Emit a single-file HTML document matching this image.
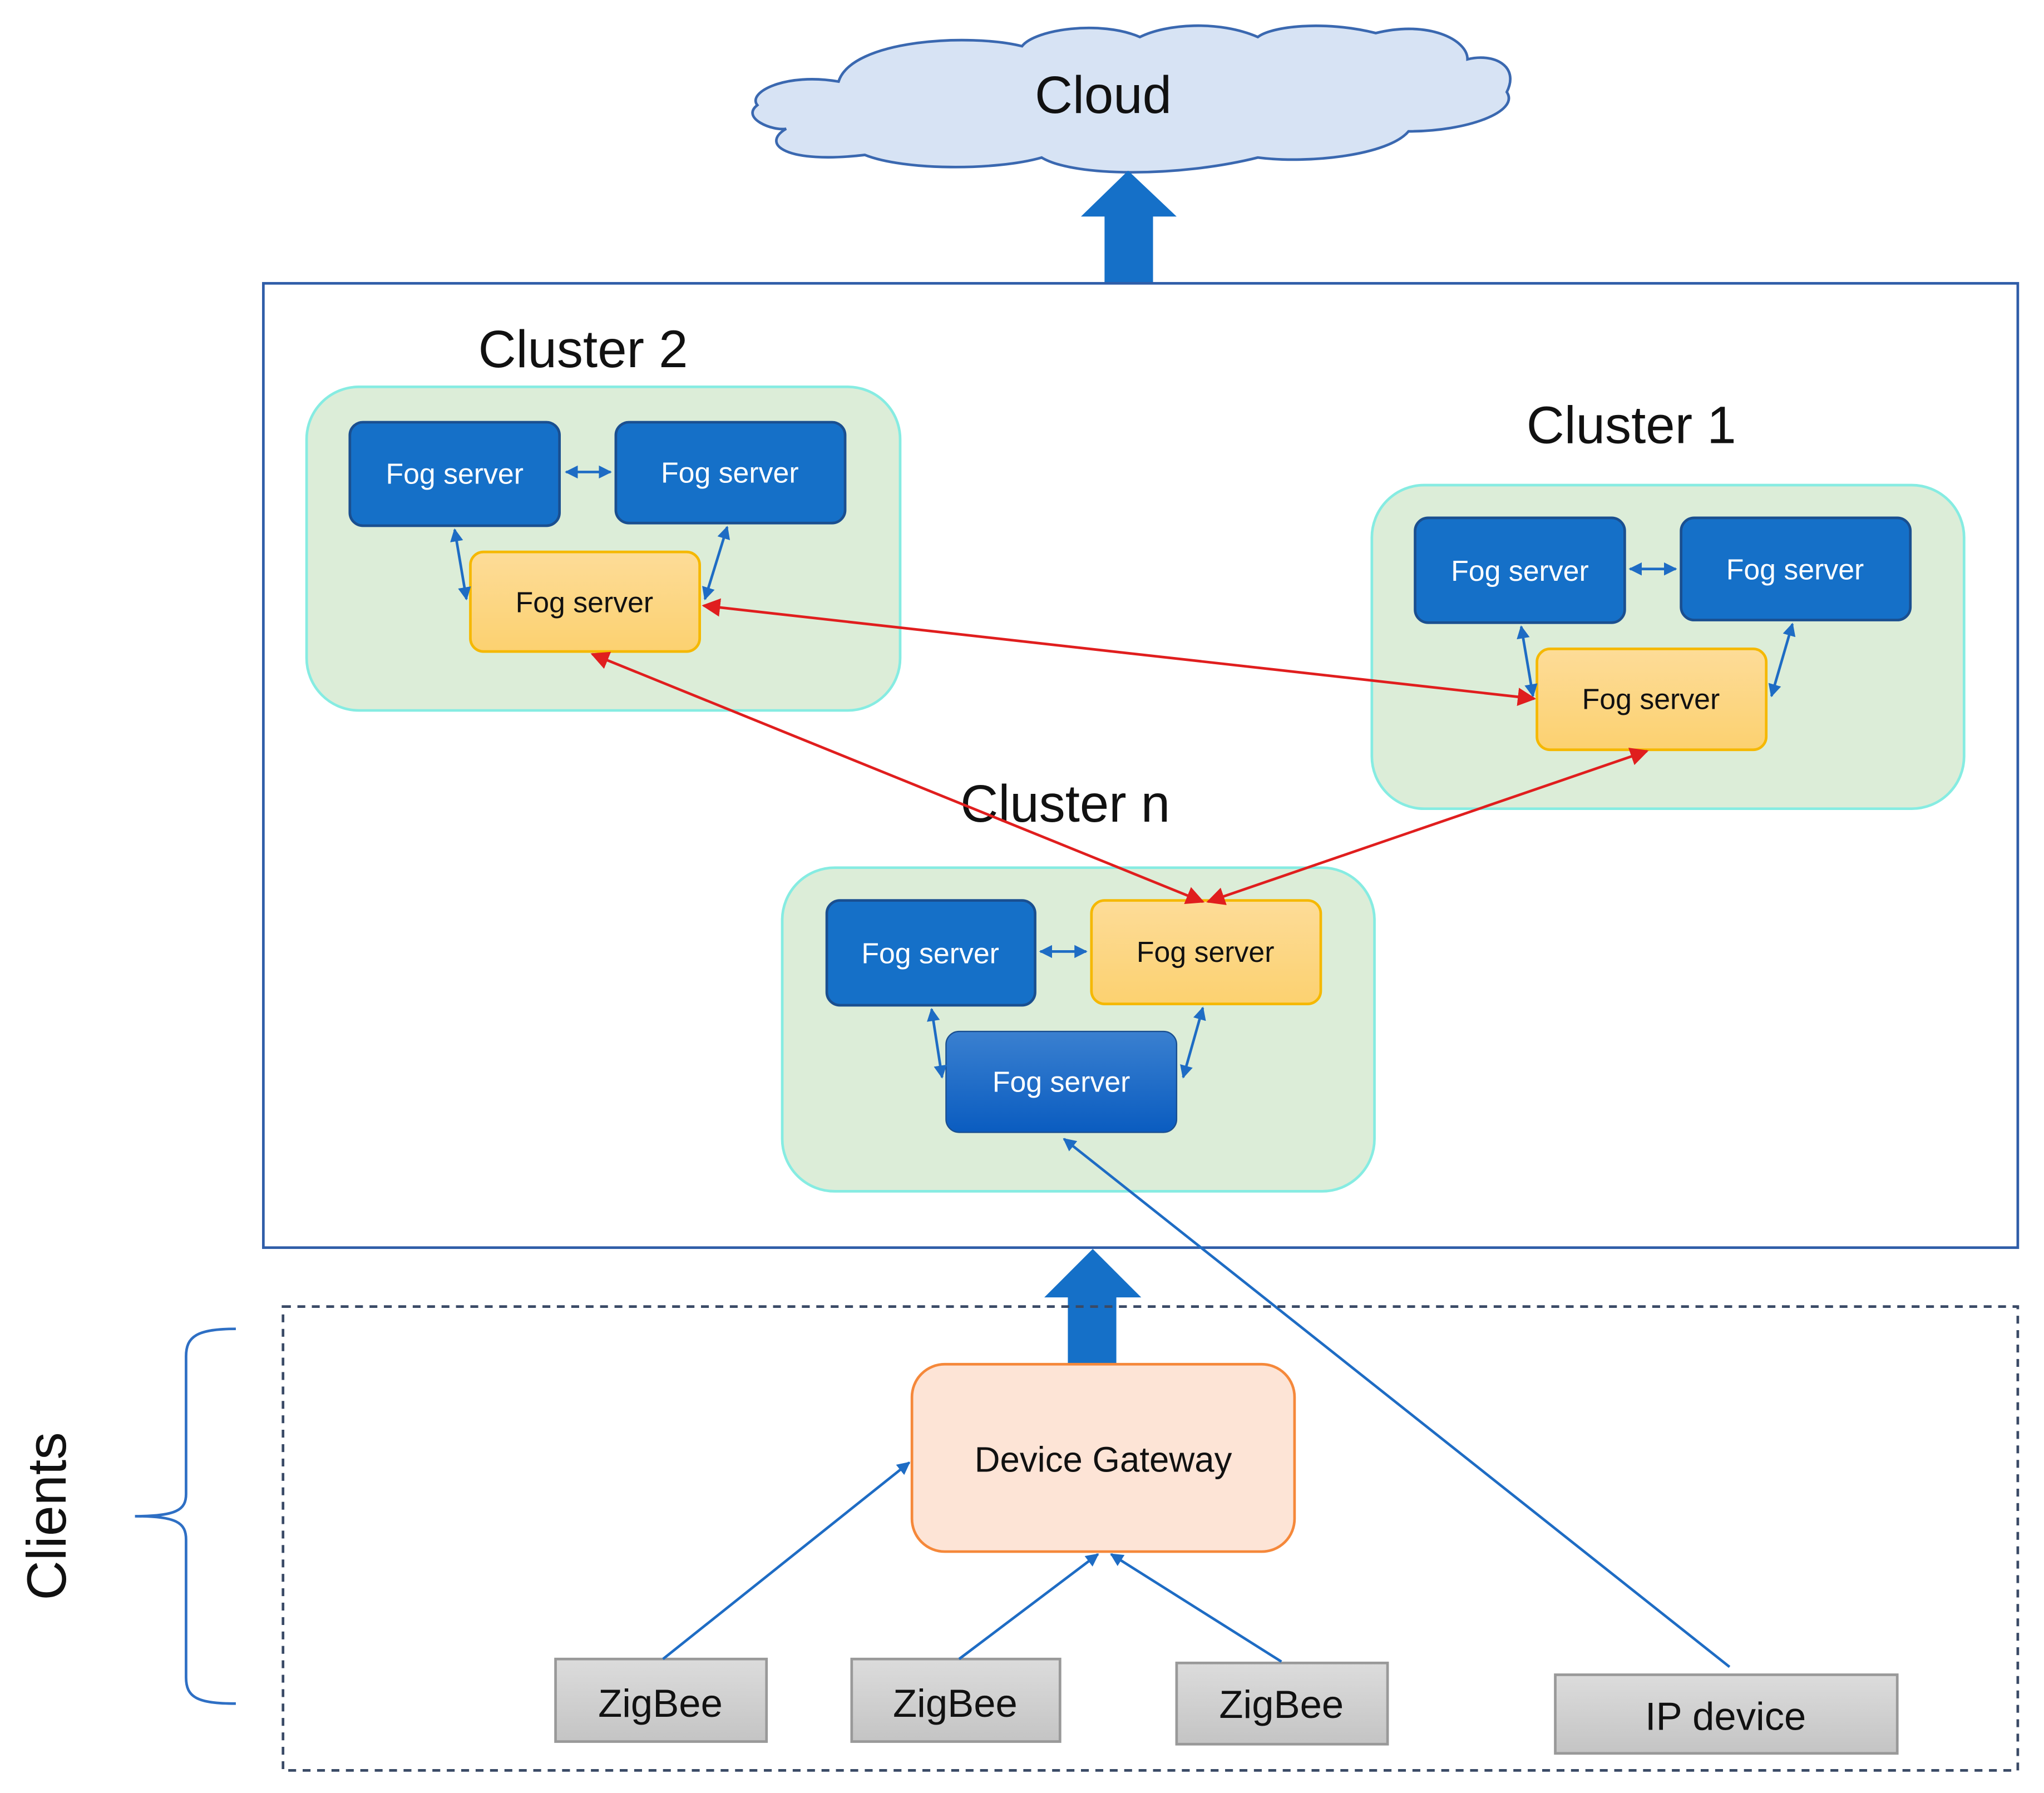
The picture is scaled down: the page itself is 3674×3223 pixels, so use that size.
<!DOCTYPE html>
<html><head><meta charset="utf-8"><style>html,body{margin:0;padding:0;background:#fff}svg{display:block}</style></head>
<body>
<svg width="3674" height="3223" viewBox="0 0 1560 1368" xmlns="http://www.w3.org/2000/svg" font-family="Liberation Sans, sans-serif">
<defs>
<marker id="bh" viewBox="0 0 10 10" refX="9" refY="5" markerWidth="5" markerHeight="5" orient="auto-start-reverse"><path d="M0,0 L10,5 L0,10 z" fill="#1e6cc4"/></marker>
<marker id="rh" viewBox="0 0 10 10" refX="9" refY="5" markerWidth="7" markerHeight="7" orient="auto-start-reverse"><path d="M0,0 L10,5 L0,10 z" fill="#e01e1e"/></marker>
<linearGradient id="yg" x1="0" y1="0" x2="0" y2="1"><stop offset="0" stop-color="#fddc98"/><stop offset="1" stop-color="#fcd170"/></linearGradient>
<linearGradient id="gg" x1="0" y1="0" x2="0" y2="1"><stop offset="0" stop-color="#dcdcdc"/><stop offset="1" stop-color="#c4c4c4"/></linearGradient>
<linearGradient id="bg2" x1="0" y1="0" x2="0" y2="1"><stop offset="0" stop-color="#3a80d0"/><stop offset="1" stop-color="#0a5cc0"/></linearGradient>
</defs>
<!-- Cloud -->
<path d="M640,62 C600,55 570,70 578,80 C565,90 590,100 600,98 C580,110 600,125 660,118 C690,130 760,130 795,120 C820,135 900,135 960,120 C1000,125 1060,118 1075,100 C1120,100 1160,85 1150,70 C1160,50 1140,40 1120,45 C1120,30 1090,15 1050,25 C1010,15 970,20 960,28 C930,15 890,18 870,28 C840,15 790,22 780,35 C740,25 650,30 640,62 Z" fill="#d7e3f4" stroke="#3a68b0" stroke-width="2"/>
<text x="842" y="86" font-size="40" text-anchor="middle" fill="#111">Cloud</text>
<!-- top arrow -->
<path d="M843,216 L843,165 L825,165 L861,130 L898,165 L880,165 L880,216 Z" fill="#1570c8"/>
<!-- main box -->
<rect x="201" y="216" width="1339" height="736" fill="none" stroke="#2f5da8" stroke-width="2"/>
<!-- Cluster 2 -->
<text x="365" y="280" font-size="40" fill="#111">Cluster 2</text>
<rect x="234" y="295" width="453" height="247" rx="40" fill="#dcedd8" stroke="#86ece2" stroke-width="2"/>
<rect x="267" y="322" width="160" height="79" rx="10" fill="#1570c8" stroke="#1a4f90" stroke-width="2"/>
<text x="347" y="369" font-size="22" fill="#fff" text-anchor="middle">Fog server</text>
<rect x="470" y="322" width="175" height="77" rx="10" fill="#1570c8" stroke="#1a4f90" stroke-width="2"/>
<text x="557" y="368" font-size="22" fill="#fff" text-anchor="middle">Fog server</text>
<rect x="359" y="421" width="175" height="76" rx="10" fill="url(#yg)" stroke="#f5b800" stroke-width="2"/>
<text x="446" y="467" font-size="22" fill="#111" text-anchor="middle">Fog server</text>
<line x1="432" y1="360" x2="466" y2="360" stroke="#1e6cc4" stroke-width="2" marker-start="url(#bh)" marker-end="url(#bh)"/>
<line x1="347" y1="404" x2="356" y2="457" stroke="#1e6cc4" stroke-width="2" marker-start="url(#bh)" marker-end="url(#bh)"/>
<line x1="555" y1="402" x2="538" y2="457" stroke="#1e6cc4" stroke-width="2" marker-start="url(#bh)" marker-end="url(#bh)"/>
<!-- Cluster 1 -->
<text x="1165" y="338" font-size="40" fill="#111">Cluster 1</text>
<rect x="1047" y="370" width="452" height="247" rx="40" fill="#dcedd8" stroke="#86ece2" stroke-width="2"/>
<rect x="1080" y="395" width="160" height="80" rx="10" fill="#1570c8" stroke="#1a4f90" stroke-width="2"/>
<text x="1160" y="443" font-size="22" fill="#fff" text-anchor="middle">Fog server</text>
<rect x="1283" y="395" width="175" height="78" rx="10" fill="#1570c8" stroke="#1a4f90" stroke-width="2"/>
<text x="1370" y="442" font-size="22" fill="#fff" text-anchor="middle">Fog server</text>
<rect x="1173" y="495" width="175" height="77" rx="10" fill="url(#yg)" stroke="#f5b800" stroke-width="2"/>
<text x="1260" y="541" font-size="22" fill="#111" text-anchor="middle">Fog server</text>
<line x1="1244" y1="434" x2="1279" y2="434" stroke="#1e6cc4" stroke-width="2" marker-start="url(#bh)" marker-end="url(#bh)"/>
<line x1="1161" y1="478" x2="1170" y2="531" stroke="#1e6cc4" stroke-width="2" marker-start="url(#bh)" marker-end="url(#bh)"/>
<line x1="1368" y1="476" x2="1352" y2="531" stroke="#1e6cc4" stroke-width="2" marker-start="url(#bh)" marker-end="url(#bh)"/>
<!-- Cluster n -->
<rect x="597" y="662" width="452" height="247" rx="40" fill="#dcedd8" stroke="#86ece2" stroke-width="2"/>
<text x="733" y="627" font-size="40" fill="#111">Cluster n</text>
<rect x="631" y="687" width="159" height="80" rx="10" fill="#1570c8" stroke="#1a4f90" stroke-width="2"/>
<text x="710" y="735" font-size="22" fill="#fff" text-anchor="middle">Fog server</text>
<rect x="833" y="687" width="175" height="79" rx="10" fill="url(#yg)" stroke="#f5b800" stroke-width="2"/>
<text x="920" y="734" font-size="22" fill="#111" text-anchor="middle">Fog server</text>
<rect x="722" y="787" width="176" height="77" rx="10" fill="url(#bg2)" stroke="#1a4f90" stroke-width="1"/>
<text x="810" y="833" font-size="22" fill="#fff" text-anchor="middle">Fog server</text>
<line x1="794" y1="726" x2="829" y2="726" stroke="#1e6cc4" stroke-width="2" marker-start="url(#bh)" marker-end="url(#bh)"/>
<line x1="711" y1="770" x2="719" y2="822" stroke="#1e6cc4" stroke-width="2" marker-start="url(#bh)" marker-end="url(#bh)"/>
<line x1="918" y1="769" x2="903" y2="822" stroke="#1e6cc4" stroke-width="2" marker-start="url(#bh)" marker-end="url(#bh)"/>
<!-- red links -->
<line x1="537" y1="462" x2="1171" y2="533" stroke="#e01e1e" stroke-width="2" marker-start="url(#rh)" marker-end="url(#rh)"/>
<line x1="452" y1="499" x2="918" y2="688" stroke="#e01e1e" stroke-width="2" marker-start="url(#rh)" marker-end="url(#rh)"/>
<line x1="1257" y1="573" x2="922" y2="688" stroke="#e01e1e" stroke-width="2" marker-start="url(#rh)" marker-end="url(#rh)"/>
<!-- IP device line -->
<line x1="1320" y1="1272" x2="812" y2="869" stroke="#1e6cc4" stroke-width="2" marker-end="url(#bh)"/>
<!-- lower arrow -->
<path d="M815,1041 L815,990 L797,990 L834,953 L871,990 L852,990 L852,1041 Z" fill="#1570c8"/>
<!-- dashed box -->
<rect x="216" y="997" width="1324" height="354" fill="none" stroke="#3a4a66" stroke-width="2" stroke-dasharray="6,5"/>
<!-- gateway -->
<rect x="696" y="1041" width="292" height="143" rx="25" fill="#fde4d6" stroke="#f5883a" stroke-width="2"/>
<text x="842" y="1123" font-size="27" fill="#111" text-anchor="middle">Device Gateway</text>
<!-- devices -->
<rect x="424" y="1266" width="161" height="63" fill="url(#gg)" stroke="#999" stroke-width="2"/>
<text x="504" y="1310" font-size="30" fill="#111" text-anchor="middle">ZigBee</text>
<rect x="650" y="1266" width="159" height="63" fill="url(#gg)" stroke="#999" stroke-width="2"/>
<text x="729" y="1310" font-size="30" fill="#111" text-anchor="middle">ZigBee</text>
<rect x="898" y="1269" width="161" height="62" fill="url(#gg)" stroke="#999" stroke-width="2"/>
<text x="978" y="1311" font-size="30" fill="#111" text-anchor="middle">ZigBee</text>
<rect x="1187" y="1278" width="261" height="60" fill="url(#gg)" stroke="#999" stroke-width="2"/>
<text x="1317" y="1320" font-size="30" fill="#111" text-anchor="middle">IP device</text>
<line x1="506" y1="1266" x2="694" y2="1116" stroke="#1e6cc4" stroke-width="2" marker-end="url(#bh)"/>
<line x1="732" y1="1266" x2="838" y2="1186" stroke="#1e6cc4" stroke-width="2" marker-end="url(#bh)"/>
<line x1="978" y1="1268" x2="848" y2="1186" stroke="#1e6cc4" stroke-width="2" marker-end="url(#bh)"/>
<!-- brace -->
<path d="M180,1014 C150,1014 142,1020 142,1035 L142,1140 C142,1152 135,1157 103,1157 C135,1157 142,1162 142,1175 L142,1280 C142,1295 150,1300 180,1300" fill="none" stroke="#2e6fc4" stroke-width="2"/>
<text transform="translate(50,1157) rotate(-90)" font-size="42" fill="#111" text-anchor="middle">Clients</text>
</svg>
</body></html>
